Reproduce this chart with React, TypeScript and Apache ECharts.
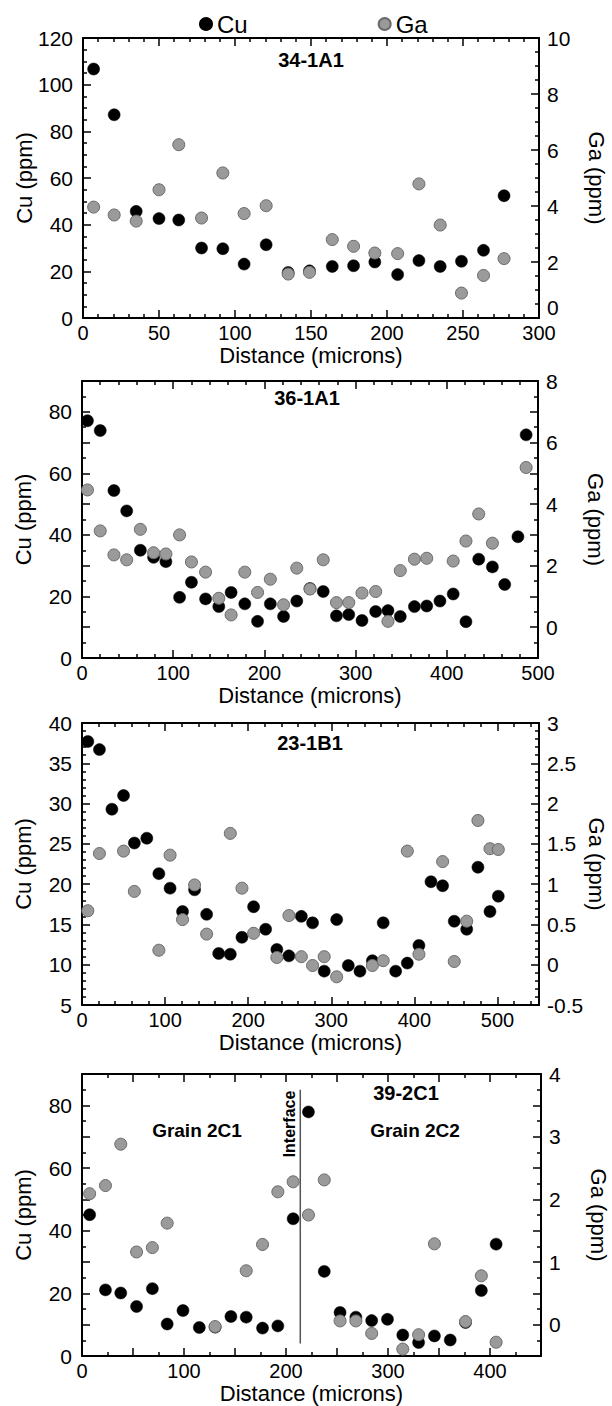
import React, { useEffect, useRef } from 'react';
import * as echarts from 'echarts';

// ---------- Panel 1: 34-1A1 ----------
const dist1 = [7, 20.5, 35, 50, 63, 78, 92, 106, 120.5, 135, 149, 164, 178, 192, 207, 221, 235, 249, 263.5, 277];
const cu1 = [106.7, 87.1, 45.7, 42.6, 42, 30, 29.7, 23.1, 31.4, 19.5, 20.2, 22.1, 22.4, 24, 18.6, 24.6, 22.1, 24.3, 29, 52.4];
const ga1 = [3.96, 3.68, 3.46, 4.58, 6.19, 3.57, 5.18, 3.73, 4.01, 1.57, 1.63, 2.8, 2.56, 2.32, 2.3, 4.79, 3.32, 0.89, 1.52, 2.12];

// ---------- Panel 2: 36-1A1 ----------
const dist2 = [6, 20, 35, 49, 64, 78.5, 92, 107, 120, 135.5, 150, 163.5, 178.5, 192.5, 206.5, 221, 235.5, 250, 264.5, 279, 292.5, 307, 322, 335.5, 349, 364.5, 378, 392.5, 407, 421, 435, 450, 463.5, 478, 487];
const cu2 = [77.1, 73.9, 54.4, 47.8, 35, 32.7, 31.3, 19.7, 24.6, 19.2, 16.7, 21.3, 17.6, 11.9, 17.6, 13.5, 18.5, 22.6, 21.6, 13.7, 14.1, 12.2, 15.1, 15.4, 13.5, 16.7, 16.9, 18.5, 20.8, 11.8, 32.1, 29.6, 23.9, 39.4, 72.5];
const gaDist2 = [6, 20, 35, 49, 64, 78.5, 92, 107, 120, 135.5, 150, 163.5, 178.5, 192.5, 206.5, 221, 235.5, 250, 264.5, 279, 292.5, 307, 322, 335.5, 349, 364.5, 378, 407, 421, 435, 450, 487];
const ga2 = [4.46, 3.13, 2.35, 2.19, 3.18, 2.42, 2.38, 3.0, 2.12, 1.79, 0.94, 0.4, 1.79, 1.13, 1.56, 0.73, 1.92, 1.24, 2.19, 0.8, 0.8, 1.11, 1.16, 0.19, 1.84, 2.21, 2.24, 2.15, 2.8, 3.68, 2.73, 5.19];

// ---------- Panel 3: 23-1B1 ----------
const dist3 = [7, 21, 36, 50, 63, 78, 92.5, 106, 121, 135.5, 150, 164.5, 178.5, 192.5, 206.5, 221, 234.5, 249, 264, 277.5, 291.5, 306.5, 320.5, 334.5, 349.5, 362.5, 377.5, 391.5, 405.5, 420, 434, 448, 463, 476.5, 491, 501];
const cu3 = [37.7, 36.7, 29.3, 31.0, 25.1, 25.7, 21.3, 19.5, 16.6, 19.3, 16.25, 11.4, 11.3, 13.4, 17.2, 14.4, 11.9, 11.1, 16.0, 15.2, 9.2, 15.6, 9.9, 9.2, 10.5, 15.2, 9.2, 10.2, 12.4, 20.3, 19.8, 15.4, 14.4, 22.1, 16.6, 18.5];
const gaDist3 = [7, 21, 50, 63, 92.5, 106, 121, 135.5, 150, 178.5, 192.5, 206.5, 234.5, 249, 264, 277.5, 291.5, 306.5, 349.5, 362.5, 391.5, 405.5, 434, 448, 463, 476.5, 491, 501];
const ga3 = [0.67, 1.38, 1.41, 0.91, 0.18, 1.36, 0.56, 0.99, 0.38, 1.63, 0.95, 0.39, 0.09, 0.61, 0.1, -0.01, 0.1, -0.15, -0.01, 0.05, 1.41, 0.13, 1.28, 0.04, 0.54, 1.79, 1.44, 1.43];

// ---------- Panel 4: 39-2C1 ----------
const dist4 = [7.5, 23, 38, 53.5, 69, 83.5, 99, 115, 130.5, 146, 161, 177, 192, 207, 222, 237.5, 253, 268.5, 284, 299.5, 314.5, 330, 345.5, 361, 376, 391.5, 406];
const cu4 = [45.1, 21.1, 20.1, 15.8, 21.5, 10.2, 14.5, 9.1, 9.2, 12.6, 12.4, 8.9, 9.6, 43.8, 77.9, 27.0, 13.9, 12.4, 11.3, 11.7, 6.7, 4.3, 6.4, 5.1, 10.7, 20.9, 35.7];
const gaDist4 = [7.5, 23, 38, 53.5, 69, 83.5, 130.5, 161, 177, 192, 207, 222, 237.5, 253, 268.5, 284, 314.5, 330, 345.5, 376, 391.5, 406];
const ga4 = [2.09, 2.22, 2.88, 1.16, 1.23, 1.62, -0.03, 0.86, 1.28, 2.12, 2.28, 1.75, 2.31, 0.06, 0.06, -0.14, -0.39, -0.16, 1.29, 0.05, 0.78, -0.28];
const interfaceDist = 214;
const interfaceCuSpan = [4, 85];

const sampleNames = ['34-1A1', '36-1A1', '23-1B1', '39-2C1'];
const seriesNames = ['Cu', 'Ga'];

const FONT = '"Liberation Sans", Arial, Helvetica, sans-serif';

const pairs = (xs: number[], ys: number[]) => xs.map((x, i) => [x, ys[i]]);

const isMult = (v: number, step: number) => Math.abs(v / step - Math.round(v / step)) < 1e-6;

interface PanelCfg {
  grid: { left: number; right: number; top: number; height: number };
  x: { max: number; interval: number; split: number; labelStep: number };
  cu: { min: number; max: number; interval: number; split: number; labelStep: number };
  ga: { min: number; max: number; interval: number; split: number; labelStep: number; labelMin: number; minAlign: string };
  cuData: number[][];
  gaData: number[][];
}

const panels: PanelCfg[] = [
  {
    grid: { left: 83, right: 73, top: 38, height: 280 },
    x: { max: 300, interval: 50, split: 5, labelStep: 50 },
    cu: { min: 0, max: 120, interval: 20, split: 4, labelStep: 20 },
    ga: { min: 0, max: 10, interval: 2, split: 4, labelStep: 2, labelMin: 0, minAlign: 'bottom' },
    cuData: pairs(dist1, cu1),
    gaData: pairs(dist1, ga1),
  },
  {
    grid: { left: 82, right: 74, top: 381, height: 277 },
    x: { max: 500, interval: 100, split: 5, labelStep: 100 },
    cu: { min: 0, max: 90, interval: 10, split: 2, labelStep: 20 },
    ga: { min: -1, max: 8, interval: 1, split: 2, labelStep: 2, labelMin: 0, minAlign: 'middle' },
    cuData: pairs(dist2, cu2),
    gaData: pairs(gaDist2, ga2),
  },
  {
    grid: { left: 82, right: 73, top: 723, height: 282 },
    x: { max: 550, interval: 100, split: 5, labelStep: 100 },
    cu: { min: 5, max: 40, interval: 5, split: 5, labelStep: 5 },
    ga: { min: -0.5, max: 3, interval: 0.5, split: 5, labelStep: 0.5, labelMin: -0.5, minAlign: 'middle' },
    cuData: pairs(dist3, cu3),
    gaData: pairs(gaDist3, ga3),
  },
  {
    grid: { left: 82, right: 71, top: 1074, height: 282 },
    x: { max: 450, interval: 50, split: 2, labelStep: 100 },
    cu: { min: 0, max: 90, interval: 10, split: 2, labelStep: 20 },
    ga: { min: -0.5, max: 4, interval: 0.5, split: 2, labelStep: 1, labelMin: 0, minAlign: 'middle' },
    cuData: pairs(dist4, cu4),
    gaData: pairs(gaDist4, ga4),
  },
];

const black = '#000';
const lineStyle = { color: black, width: 2 };
const tickStyle = { color: black, width: 1.5 };

function buildOption() {
  const grids: any[] = [];
  const xAxes: any[] = [];
  const yAxes: any[] = [];
  const series: any[] = [];

  panels.forEach((p, gi) => {
    grids.push({ ...p.grid, outerBoundsMode: 'none', containLabel: false, show: false });
    const bottomIdx = xAxes.length;
    xAxes.push({
      type: 'value', gridIndex: gi, position: 'bottom', min: 0, max: p.x.max, interval: p.x.interval,
      name: 'Distance (microns)', nameLocation: 'middle', nameGap: 26, nameMoveOverlap: false,
      nameTextStyle: { fontSize: 22, color: black, fontFamily: FONT },
      axisLine: { show: true, onZero: false, lineStyle },
      axisTick: { show: true, inside: true, length: 8, lineStyle: tickStyle },
      minorTick: { show: true, splitNumber: p.x.split, length: 4, lineStyle: tickStyle },
      axisLabel: {
        show: true, fontSize: 20, color: black, fontFamily: FONT, margin: 5, hideOverlap: false,
        formatter: (v: number) => (isMult(v, p.x.labelStep) ? String(v) : ''),
      },
      splitLine: { show: false }, minorSplitLine: { show: false },
    });
    xAxes.push({
      type: 'value', gridIndex: gi, position: 'top', min: 0, max: p.x.max, interval: p.x.interval,
      axisLine: { show: true, onZero: false, lineStyle },
      axisTick: { show: true, inside: true, length: 8, lineStyle: tickStyle },
      minorTick: { show: true, splitNumber: p.x.split, length: 4, lineStyle: tickStyle },
      axisLabel: { show: false },
      splitLine: { show: false },
    });
    const cuIdx = yAxes.length;
    yAxes.push({
      type: 'value', gridIndex: gi, position: 'left', min: p.cu.min, max: p.cu.max, interval: p.cu.interval,
      name: 'Cu (ppm)', nameLocation: 'middle', nameGap: 48, nameRotate: 90, nameMoveOverlap: false,
      nameTextStyle: { fontSize: 22, color: black, fontFamily: FONT },
      axisLine: { show: true, onZero: false, lineStyle },
      axisTick: { show: true, inside: true, length: 8, lineStyle: tickStyle },
      minorTick: { show: true, splitNumber: p.cu.split, length: 4, lineStyle: tickStyle },
      axisLabel: {
        show: true, fontSize: 21, color: black, fontFamily: FONT, margin: 10, hideOverlap: false,
        formatter: (v: number) => (isMult(v, p.cu.labelStep) ? String(v) : ''),
      },
      splitLine: { show: false },
    });
    const gaIdx = yAxes.length;
    yAxes.push({
      type: 'value', gridIndex: gi, position: 'right', min: p.ga.min, max: p.ga.max, interval: p.ga.interval,
      name: 'Ga (ppm)', nameLocation: 'middle', nameGap: 46, nameRotate: -90, nameMoveOverlap: false,
      nameTextStyle: { fontSize: 22, color: black, fontFamily: FONT },
      axisLine: { show: true, onZero: false, lineStyle },
      axisTick: { show: true, inside: true, length: 8, lineStyle: tickStyle },
      minorTick: { show: true, splitNumber: p.ga.split, length: 4, lineStyle: tickStyle },
      axisLabel: {
        show: true, fontSize: 21, color: black, fontFamily: FONT, margin: 8, hideOverlap: false,
        verticalAlignMinLabel: p.ga.minAlign,
        formatter: (v: number) => (isMult(v, p.ga.labelStep) && v >= p.ga.labelMin - 1e-9 ? String(Math.round(v * 10) / 10) : ''),
      },
      splitLine: { show: false },
    });

    series.push({
      type: 'scatter', name: seriesNames[0], xAxisIndex: bottomIdx, yAxisIndex: cuIdx,
      data: p.cuData, symbol: 'circle', symbolSize: 12,
      itemStyle: { color: '#000', borderColor: '#000', borderWidth: 0.5, opacity: 1 },
      emphasis: { disabled: true }, z: 3,
    });
    series.push({
      type: 'scatter', name: seriesNames[1], xAxisIndex: bottomIdx, yAxisIndex: gaIdx,
      data: p.gaData, symbol: 'circle', symbolSize: 12,
      itemStyle: { color: '#9a9a9a', borderColor: '#6a6a6a', borderWidth: 1, opacity: 1 },
      emphasis: { disabled: true }, z: 4,
    });
    if (gi === 3) {
      series.push({
        type: 'line', name: 'Interface', xAxisIndex: bottomIdx, yAxisIndex: cuIdx,
        data: interfaceCuSpan.map((c) => [interfaceDist, c]),
        symbol: 'none', lineStyle: { color: '#555', width: 1.5 }, z: 2, silent: true,
      });
    }
  });

  const textStyle = (size: number) => ({
    font: `bold ${size}px ${FONT}`, fill: '#000',
    textAlign: 'center', textVerticalAlign: 'middle', align: 'center', verticalAlign: 'middle',
  });
  const graphic = [
    { type: 'text', x: 311, y: 60, style: { text: sampleNames[0], ...textStyle(20) } },
    { type: 'text', x: 307, y: 398, style: { text: sampleNames[1], ...textStyle(20) } },
    { type: 'text', x: 310, y: 743, style: { text: sampleNames[2], ...textStyle(20) } },
    { type: 'text', x: 406, y: 1093, style: { text: sampleNames[3], ...textStyle(20) } },
    { type: 'text', x: 197, y: 1130, style: { text: 'Grain 2C1', ...textStyle(19) } },
    { type: 'text', x: 415, y: 1130, style: { text: 'Grain 2C2', ...textStyle(19) } },
    { type: 'text', x: 289, y: 1124, rotation: Math.PI / 2, style: { text: 'Interface', ...textStyle(16) } },
  ];

  return {
    animation: false,
    backgroundColor: '#fff',
    textStyle: { fontFamily: FONT },
    legend: {
      data: seriesNames.map((n) => ({ name: n, icon: 'circle' })),
      left: 194, top: 7, itemWidth: 12, itemHeight: 12, itemGap: 130,
      textStyle: { fontSize: 24, color: '#000', fontFamily: FONT },
      selectedMode: false,
    },
    grid: grids,
    xAxis: xAxes,
    yAxis: yAxes,
    series,
    graphic,
  };
}

export default function App() {
  const ref = useRef<HTMLDivElement>(null);
  useEffect(() => {
    document.body.style.margin = '0';
    if (!ref.current) return;
    const chart = echarts.init(ref.current, undefined, { renderer: 'svg' });
    chart.setOption(buildOption() as any);
    return () => chart.dispose();
  }, []);
  return <div ref={ref} style={{ width: 612, height: 1406, background: '#fff' }} />;
}
